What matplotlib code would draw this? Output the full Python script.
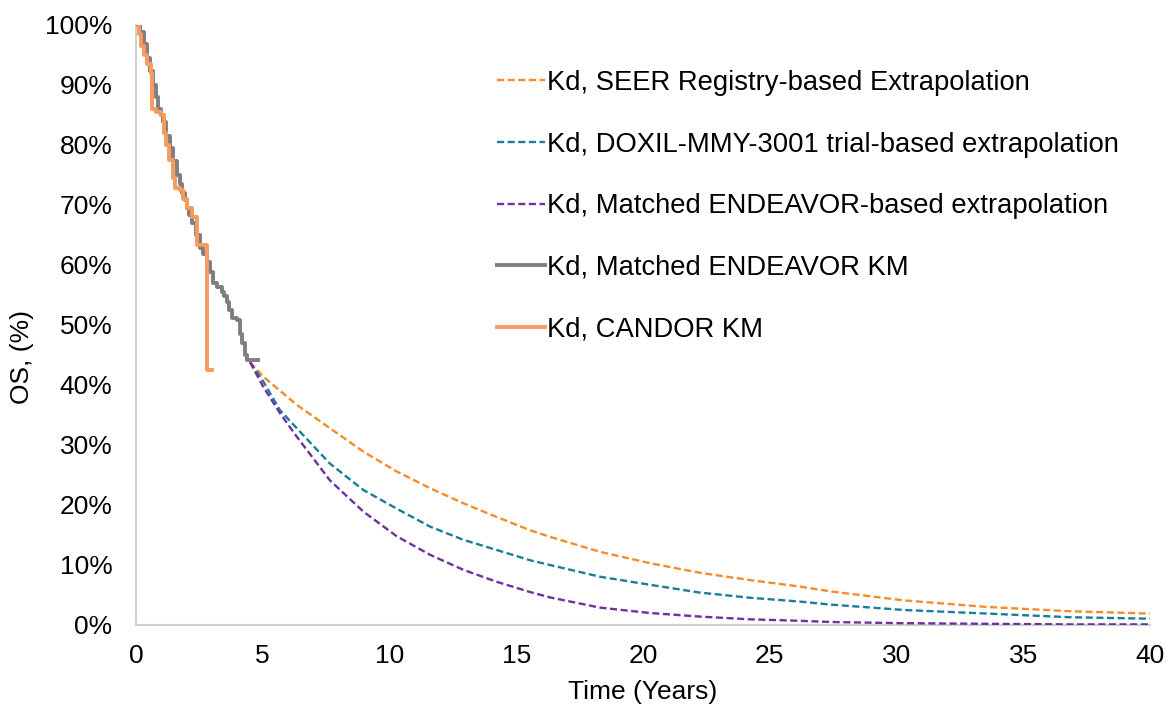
import matplotlib
matplotlib.use("Agg")
import matplotlib.pyplot as plt
from matplotlib.ticker import PercentFormatter

plt.rcParams['font.family'] = ['Liberation Sans', 'DejaVu Sans']

# Extrapolations (years, OS %)
seer_t = [4.5, 5.02, 6.34, 7.65, 8.97, 10.28, 11.6, 12.91, 14.23, 15.54, 16.33, 18.3, 20.28,
          22.25, 24.2, 26.2, 27.4, 30.3, 33.6, 36.8, 40.0]
seer_s = [43.8, 41.4, 36.7, 32.8, 28.9, 25.6, 22.8, 20.3, 18.0, 15.8, 14.7, 12.2, 10.3,
          8.7, 7.5, 6.4, 5.6, 4.1, 3.0, 2.3, 1.9]

doxil_t = [4.5, 5.02, 5.68, 6.34, 7.65, 8.97, 10.28, 11.6, 12.91, 14.23, 15.54, 16.33, 18.3,
           20.28, 22.25, 24.2, 26.2, 27.4, 30.3, 33.6, 36.8, 40.0]
doxil_s = [43.8, 40.6, 35.8, 32.8, 26.9, 22.5, 19.4, 16.4, 14.2, 12.5, 10.8, 10.0, 8.05,
           6.7, 5.4, 4.55, 3.9, 3.4, 2.5, 1.9, 1.3, 1.05]

endx_t = [4.5, 5.02, 5.68, 6.34, 7.65, 8.97, 10.28, 11.6, 12.91, 14.23, 15.54, 16.33, 18.3,
          20.28, 22.25, 24.2, 26.2, 27.4, 30.3, 33.6, 36.8, 40.0]
endx_s = [43.8, 39.7, 35.3, 31.4, 24.1, 18.9, 14.8, 11.7, 9.2, 7.2, 5.5, 4.6, 2.9,
          2.0, 1.4, 0.95, 0.7, 0.5, 0.3, 0.2, 0.1, 0.1]

# Kaplan-Meier curves (step)
endkm_t = [0.0, 0.16, 0.3, 0.43, 0.55, 0.67, 0.78, 0.87, 0.97, 1.07, 1.2, 1.34, 1.47, 1.6, 1.72,
           1.82, 1.92, 2.0, 2.1, 2.2, 2.35, 2.52, 2.65, 2.8, 2.92, 3.04, 3.2, 3.38, 3.48, 3.58,
           3.68, 3.78, 4.0, 4.1, 4.2, 4.3, 4.37, 4.8]
endkm_s = [100.0, 98.8, 96.8, 94.5, 92.3, 90.0, 88.0, 86.0, 85.0, 83.8, 81.5, 79.5, 77.3, 75.0, 73.5,
           72.0, 70.8, 69.5, 68.3, 67.0, 65.0, 62.8, 61.8, 60.5, 58.8, 57.0, 56.3, 55.5, 54.8, 53.8,
           52.5, 51.2, 50.8, 48.5, 47.0, 45.0, 44.2, 44.2]

candor_t = [0.0, 0.1, 0.2, 0.3, 0.45, 0.6, 0.65, 0.8, 1.0, 1.1, 1.2, 1.3, 1.45, 1.55, 1.75, 1.85,
            2.0, 2.2, 2.4, 2.42, 2.8, 2.81, 3.0]
candor_s = [100.0, 98.5, 96.5, 95.0, 93.5, 92.0, 86.0, 85.5, 85.0, 82.0, 80.0, 77.5, 74.5, 72.8, 72.5, 71.0,
            69.5, 68.0, 67.0, 63.3, 63.3, 42.5, 42.5]

labels = ["Kd, SEER Registry-based Extrapolation",
          "Kd, DOXIL-MMY-3001 trial-based extrapolation",
          "Kd, Matched ENDEAVOR-based extrapolation",
          "Kd, Matched ENDEAVOR KM",
          "Kd, CANDOR KM"]

x_ticks = [0, 5, 10, 15, 20, 25, 30, 35, 40]
y_ticks = [0, 10, 20, 30, 40, 50, 60, 70, 80, 90, 100]

FS = 19
LFS = 19.7

fig = plt.figure(figsize=(11.74, 7.08), dpi=100)
ax = fig.add_axes([136/1174, 83/708, 1014/1174, 600/708])

dash = (3, 1.5)
ax.plot(seer_t, seer_s, color='#F68B2C', lw=1.7, dashes=dash, label=labels[0], zorder=3)
ax.plot(doxil_t, doxil_s, color='#1B7C9B', lw=1.7, dashes=dash, label=labels[1], zorder=3)
ax.plot(endx_t, endx_s, color='#7030A0', lw=1.7, dashes=dash, label=labels[2], zorder=3)
ax.step(endkm_t, endkm_s, where='post', color='#7F7F7F', lw=2.8, label=labels[3], zorder=4)
ax.step(candor_t, candor_s, where='post', color='#F79A5E', lw=2.8, label=labels[4], zorder=5)

ax.set_xlim(0, 40)
ax.set_ylim(0, 100)
ax.set_xticks(x_ticks)
ax.set_yticks(y_ticks)
ax.yaxis.set_major_formatter(PercentFormatter(decimals=0))
ax.tick_params(length=0, labelsize=FS, colors='#000000')
ax.tick_params(axis='y', pad=17)
ax.tick_params(axis='x', pad=14)
for s in ['top', 'right']:
    ax.spines[s].set_visible(False)
for s in ['left', 'bottom']:
    ax.spines[s].set_color('#D0D0D0')
    ax.spines[s].set_linewidth(1.5)

ax.set_xlabel("Time (Years)", fontsize=FS, labelpad=8)
fig.text(22/1174, 1 - 357/708, "OS, (%)", rotation=90, fontsize=FS, ha='center', va='center')

leg = ax.legend(loc='upper left', bbox_to_anchor=(0.356, 0.925), frameon=False, fontsize=LFS,
                handlelength=1.76, handletextpad=0.08, labelspacing=1.30, borderaxespad=0,
                borderpad=0)

fig.savefig("out.png", dpi=100)
